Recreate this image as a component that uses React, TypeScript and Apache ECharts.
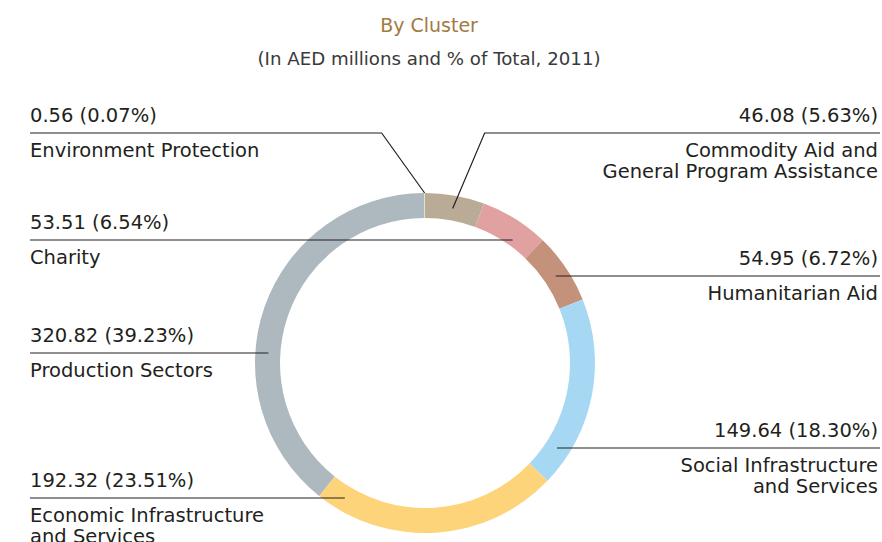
import React, { useEffect, useRef } from "react";
import * as echarts from "echarts";

// ---- data ----
const categories: string[] = [
  "Commodity Aid and\nGeneral Program Assistance",
  "Charity",
  "Humanitarian Aid",
  "Social Infrastructure\nand Services",
  "Economic Infrastructure\nand Services",
  "Production Sectors",
  "Environment Protection",
];
const values: number[] = [46.08, 53.51, 54.95, 149.64, 192.32, 320.82, 0.56];
const percents: number[] = [5.63, 6.54, 6.72, 18.3, 23.51, 39.23, 0.07];
const sliceColors: string[] = [
  "#baab97",
  "#e0a1a0",
  "#c4927b",
  "#a7d8f3",
  "#fed47b",
  "#aeb8bf",
  "#d8e2d0",
];

// ---- layout (not data) ----
const CX = 425;
const CY = 363;
const R_IN = 145;
const R_OUT = 170;
const TEXT = "#231f20";
const FONT = "'DejaVu Sans', sans-serif";

type LabelLayout = { side: "left" | "right"; lineY: number; bendDx?: number; anchorR: number };
const labelLayouts: LabelLayout[] = [
  { side: "right", lineY: 133, bendDx: 32, anchorR: 157 },
  { side: "left", lineY: 240, anchorR: 151 },
  { side: "right", lineY: 276, anchorR: 157 },
  { side: "right", lineY: 448, anchorR: 157 },
  { side: "left", lineY: 498, anchorR: 157 },
  { side: "left", lineY: 353, anchorR: 157 },
  { side: "left", lineY: 133, bendDx: -43, anchorR: 170 },
];

export default function App() {
  const ref = useRef<HTMLDivElement>(null);
  useEffect(() => {
    document.body.style.margin = "0";
    if (!ref.current) return;
    const chart = echarts.init(ref.current, undefined, { renderer: "svg" });
    const total = values.reduce((a, b) => a + b, 0);
    // slice ranges in degrees, clockwise from 12 o'clock
    const startDeg: number[] = [];
    const endDeg: number[] = [];
    let cum = 0;
    values.forEach((v) => {
      startDeg.push((cum / total) * 360);
      cum += v;
      endDeg.push((cum / total) * 360);
    });
    const angleOf = (x: number, y: number) => {
      let a = (Math.atan2(x - CX, -(y - CY)) * 180) / Math.PI;
      if (a < 0) a += 360;
      return a;
    };

    const ringData = categories.map((name, i) => ({
      name,
      value: values[i],
      itemStyle: { color: sliceColors[i] },
    }));
    const labelData = categories.map((name, i) => ({
      name,
      value: values[i],
      itemStyle: { color: "rgba(0,0,0,0)" },
    }));

    const base = {
      type: "pie",
      center: [CX, CY],
      radius: [R_IN, R_OUT],
      startAngle: 90,
      clockwise: true,
      avoidLabelOverlap: false,
      silent: true,
      emphasis: { disabled: true },
    };

    chart.setOption({
      animation: false,
      graphic: [
        {
          type: "text",
          x: 429,
          y: 25,
          style: {
            text: "By Cluster",
            fill: "#a27a42",
            font: `19px ${FONT}`,
            align: "center",
            verticalAlign: "middle",
          },
        },
        {
          type: "text",
          x: 429,
          y: 58,
          style: {
            text: "(In AED millions and % of Total, 2011)",
            fill: "#3a3a3a",
            font: `18.2px ${FONT}`,
            align: "center",
            verticalAlign: "middle",
          },
        },
      ],
      series: [
        {
          ...base,
          z: 2,
          data: ringData,
          itemStyle: { borderWidth: 0 },
          label: { show: false },
          labelLine: { show: false },
        },
        {
          ...base,
          z: 5,
          data: labelData,
          itemStyle: { borderWidth: 0 },
          label: {
            show: true,
            position: "outside",
            color: TEXT,
            fontFamily: FONT,
            formatter: (p: any) => {
              const i = p.dataIndex;
              const head = `{v|${values[i].toFixed(2)} (${percents[i].toFixed(2)}%)}`;
              const names = categories[i]
                .split("\n")
                .map((s) => `{n|${s}}`)
                .join("\n");
              return `${head}\n{gap| }\n${names}`;
            },
            rich: {
              v: { fontSize: 19.5, lineHeight: 22, color: TEXT, fontFamily: FONT },
              gap: { fontSize: 2, lineHeight: 13.5 },
              n: { fontSize: 19.5, lineHeight: 21, color: TEXT, fontFamily: FONT },
            },
          },
          labelLine: {
            show: true,
            length: 10,
            length2: 10,
            lineStyle: { color: TEXT, width: 1.2 },
          },
          labelLayout: (params: any) => {
            const i = params.dataIndex;
            const L = labelLayouts[i];
            const endX = L.side === "left" ? 30 : 880;
            let anchor: number[];
            let bend: number[];
            if (L.bendDx !== undefined) {
              const mid = (((startDeg[i] + endDeg[i]) / 2) * Math.PI) / 180;
              anchor = [CX + L.anchorR * Math.sin(mid), CY - L.anchorR * Math.cos(mid)];
              bend = [anchor[0] + L.bendDx, L.lineY];
            } else {
              const dy = L.lineY - CY;
              const d = Math.sqrt(L.anchorR * L.anchorR - dy * dy);
              const sideFirst = L.side === "left" ? [CX - d, CX + d] : [CX + d, CX - d];
              const inSlice = sideFirst.filter((x) => {
                const a = angleOf(x, L.lineY);
                return a >= startDeg[i] && a <= endDeg[i];
              });
              const ax = inSlice.length ? inSlice[0] : sideFirst[0];
              anchor = [ax, L.lineY];
              bend = [ax, L.lineY];
            }
            return {
              x: L.side === "left" ? 30 : 878,
              y: L.lineY - 29,
              align: L.side,
              verticalAlign: "top",
              labelLinePoints: [anchor, bend, [endX, L.lineY]],
            };
          },
        },
      ],
    });
    return () => chart.dispose();
  }, []);
  return <div ref={ref} style={{ width: 882, height: 542 }} />;
}
